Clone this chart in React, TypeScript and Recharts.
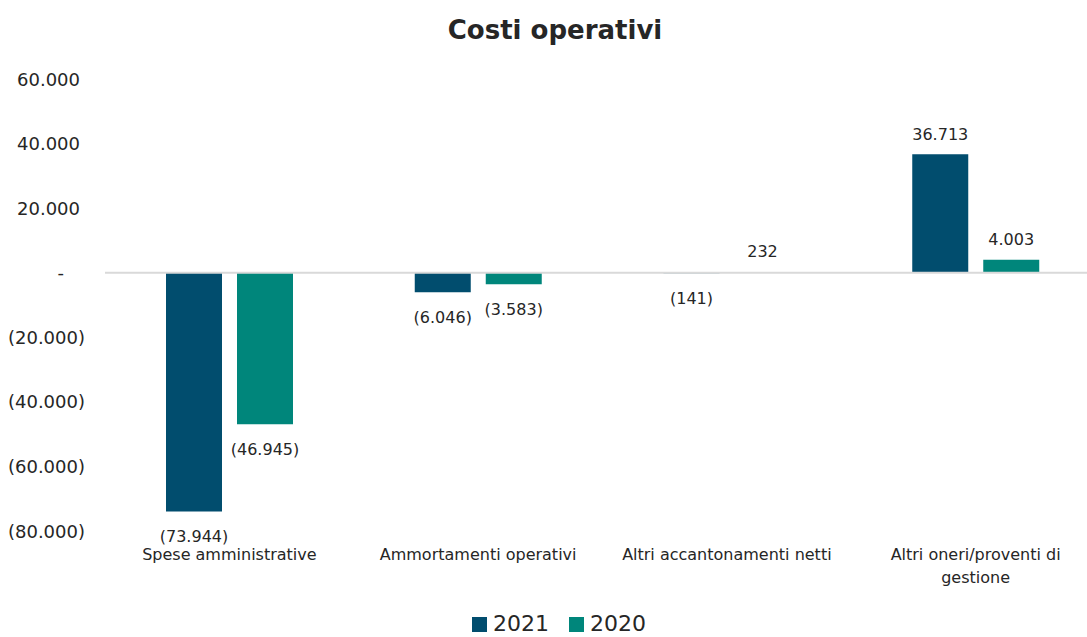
import React from "react";
import {
  BarChart,
  Bar,
  XAxis,
  YAxis,
  Legend,
  LabelList,
  ReferenceLine,
  Text,
} from "recharts";

const categories = [
  "Spese amministrative",
  "Ammortamenti operativi",
  "Altri accantonamenti netti",
  "Altri oneri/proventi di gestione",
];
const values2021 = [-73944, -6046, -141, 36713];
const values2020 = [-46945, -3583, 232, 4003];
const yTicks = [60000, 40000, 20000, 0, -20000, -40000, -60000, -80000];
const seriesOrder = ["2021", "2020"];

const data = categories.map((name, i) => ({
  name,
  y2021: values2021[i],
  y2020: values2020[i],
}));

const FONT = "'DejaVu Sans', sans-serif";
const TEXT = "#262626";
const C2021 = "#014d6e";
const C2020 = "#00867b";

function fmt(v: number) {
  if (v === 0) return "-";
  const s = Math.abs(v)
    .toString()
    .replace(/\B(?=(\d{3})+(?!\d))/g, ".");
  return v < 0 ? `(${s})` : s;
}

function YTick(props: any) {
  const { x, y, payload } = props;
  const v = payload.value;
  const dx = v < 0 ? 0 : v > 0 ? -5 : -21;
  return (
    <text
      x={x + dx}
      y={y}
      textAnchor="end"
      dominantBaseline="central"
      fontFamily={FONT}
      fontSize={18}
      fill={TEXT}
    >
      {fmt(v)}
    </text>
  );
}

function XTick(props: any) {
  const { x, y, payload } = props;
  return (
    <Text
      x={x}
      y={y}
      width={240}
      textAnchor="middle"
      verticalAnchor="start"
      lineHeight={23}
      style={{ fontFamily: FONT, fontSize: 16 }}
      fill={TEXT}
    >
      {payload.value}
    </Text>
  );
}

function ValueLabel(props: any) {
  const { x, y, width, height, value } = props;
  const top = Math.min(y, y + height);
  const bottom = Math.max(y, y + height);
  const ly = value >= 0 ? top - 20 : bottom + 25;
  return (
    <text
      x={x + width / 2}
      y={ly}
      textAnchor="middle"
      dominantBaseline="central"
      fontFamily={FONT}
      fontSize={16}
      fill={TEXT}
    >
      {fmt(value)}
    </text>
  );
}

function LegendContent(props: any) {
  const items = [...(props.payload || [])].sort(
    (a: any, b: any) =>
      seriesOrder.indexOf(String(a.value)) - seriesOrder.indexOf(String(b.value))
  );
  return (
    <div
      style={{
        display: "flex",
        justifyContent: "center",
        alignItems: "center",
        height: 26,
        paddingLeft: 18,
        fontFamily: FONT,
        fontSize: 22,
        color: TEXT,
      }}
    >
      {items.map((it: any) => (
        <div
          key={it.value}
          style={{ display: "flex", alignItems: "center", margin: "0 10px" }}
        >
          <span
            style={{
              width: 15,
              height: 15,
              background: it.color,
              display: "inline-block",
              marginRight: 6,
            }}
          />
          <span style={{ lineHeight: "26px" }}>{it.value}</span>
        </div>
      ))}
    </div>
  );
}

export default function App() {
  return (
    <div
      style={{
        position: "fixed",
        left: 0,
        top: 0,
        width: 1087,
        height: 637,
        overflow: "hidden",
        background: "#fff",
      }}
    >
      <div
        style={{
          position: "absolute",
          left: 0,
          top: 15,
          width: 1110,
          textAlign: "center",
          fontFamily: FONT,
          fontWeight: "bold",
          fontSize: 26,
          lineHeight: "30px",
          color: TEXT,
        }}
      >
        Costi operativi
      </div>
      <BarChart
        width={1102}
        height={637}
        data={data}
        margin={{ top: 79, right: 2, bottom: 0, left: 0 }}
        barSize={56}
        barGap={15}
      >
        <XAxis
          dataKey="name"
          axisLine={false}
          tickLine={false}
          tickSize={0}
          tickMargin={18}
          height={80}
          interval={0}
          tick={<XTick />}
        />
        <YAxis
          width={105}
          domain={[-80000, 60000]}
          ticks={yTicks}
          axisLine={false}
          tickLine={false}
          tickSize={0}
          tickMargin={20}
          interval={0}
          tick={<YTick />}
        />
        <ReferenceLine y={0} stroke="#d9d9d9" strokeWidth={2} />
        <Bar dataKey="y2021" name="2021" fill={C2021} isAnimationActive={false}>
          <LabelList dataKey="y2021" content={<ValueLabel />} />
        </Bar>
        <Bar dataKey="y2020" name="2020" fill={C2020} isAnimationActive={false}>
          <LabelList dataKey="y2020" content={<ValueLabel />} />
        </Bar>
        <Legend verticalAlign="bottom" height={26} content={<LegendContent />} />
      </BarChart>
    </div>
  );
}
